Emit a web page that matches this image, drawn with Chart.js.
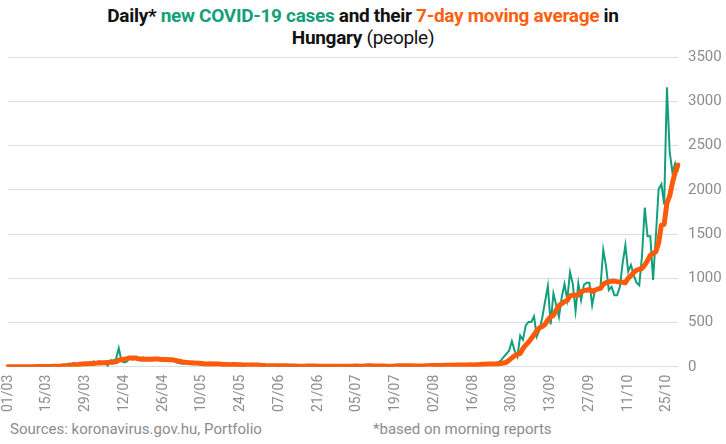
<!DOCTYPE html>
<html>
<head>
<meta charset="utf-8">
<script src="https://cdn.jsdelivr.net/npm/chart.js@4.4.1/dist/chart.umd.min.js"></script>
<style>
    body { margin: 0; background: #fff; font-family: Roboto, sans-serif; }
    #wrap { position: relative; width: 726px; height: 444px; overflow: hidden; }
    #title { position: absolute; left: 0; top: 5px; width: 726px; text-align: center;
             font-size: 19px; font-weight: 700; line-height: 22px; color: #111; letter-spacing: -0.3px; }
    #title .g { color: #12a07c; }
    #title .o { color: #ff5f0f; }
    #title .n { font-weight: 400; }
    #box { position: absolute; left: 0; top: 38px; width: 726px; height: 382px; }
    .foot { position: absolute; top: 420px; font-size: 15px; color: #8c8c8c; }
</style>
</head>
<body>
<div id="wrap">
    <div id="title">Daily* <span class="g">new COVID-19 cases</span> and their <span class="o">7-day moving average</span> in<br>Hungary <span class="n">(people)</span></div>
    <div id="box"><canvas id="covidChart"></canvas></div>
    <div class="foot" style="left:10px">Sources: koronavirus.gov.hu, Portfolio</div>
    <div class="foot" style="left:373px">*based on morning reports</div>
</div>
<script>
// napi új esetek (reggeli jelentések), havonta
const casesMar = [0,0,0,2,0,2,3,0,1,3, 4,0,3,3,6,7,11,11,8,12, 18,18,36,35,41,26,39,34,38,39, 45];
const casesApr = [60,38,62,45,55,11,73,70,85,210, 65,50,60,110,81,92,98,70,106,74, 76,97,96,98,72,62,78,70,68,80];
const casesMay = [46,38,33,37,44,35,56,45,35,20, 18,29,45,33,28,35,20,16,25,20, 35,30,20,10,5,21,26,15,20,21, 10];
const casesJun = [6,5,10,12,18,9,7,14,10,6, 6,5,8,4,12,5,12,10,6,10, 2,3,4,11,3,3,9,14,6,5];
const casesJul = [2,8,12,8,9,10,2,13,13,7, 9,6,4,10,10,5,9,6,21,15, 13,5,9,9,6,11,4,6,10,20, 23];
const casesAug = [13,14,9,18,10,20,23,27,15,18, 17,22,19,27,30,12,21,22,35,25, 40,35,45,40,50,68,110,144,182,289, 182];
const casesSep = [114,353,304,467,505,505,570,342,418,560, 740,912,479,828,700,562,783,935,760,1068, 935,631,942,752,923,950,950,695,866,866];
const casesOct = [904,1322,1140,866,904,809,809,904,1170,1372, 1075,1150,1037,950,920,1254,1797,1474,1474,980, 1474,2006,2063,1835,3158,2424,2196,2299,2204];

// 7 napos mozgóátlag, havonta
const avgMar = [0,0,0,0,0,1,1,1,1,1, 2,2,2,2,3,4,5,7,7,8, 10,12,15,18,22,24,27,30,33,34, 37];
const avgApr = [38,41,42,46,46,49,50,52,55,75, 80,85,92,98,100,100,90,88,86,85, 84,85,88,87,84,82,81,80,78,75];
const avgMay = [68,62,55,50,47,45,43,41,40,37, 34,32,33,32,32,31,28,25,25,24, 25,25,24,22,20,19,20,19,20,19, 17];
const avgJun = [15,13,12,12,12,11,10,10,11,10, 9,8,8,7,7,7,8,8,8,8, 7,6,6,6,5,5,6,7,7,7];
const avgJul = [7,7,7,8,8,7,7,9,10,10, 9,9,8,8,8,7,7,7,9,10, 10,10,10,10,10,9,9,8,8,10, 12];
const avgAug = [13,14,15,15,15,16,16,18,18,19, 19,20,20,21,22,21,22,23,28,29, 30,30,31,32,33,36,42,50,75,100, 125];
const avgSep = [138,150,205,245,277,320,360,410,440,455, 480,530,565,580,640,690,714,735,750,800, 810,808,810,850,860,866,875,850,865,878];
const avgOct = [885,930,950,960,965,968,962,958,955,950, 1000,1030,1065,1090,1102,1110,1150,1200,1260,1280, 1300,1400,1600,1610,1850,1930,2080,2200,2280];

const cases = [].concat(casesMar, casesApr, casesMay, casesJun, casesJul, casesAug, casesSep, casesOct);
const movingAvg = [].concat(avgMar, avgApr, avgMay, avgJun, avgJul, avgAug, avgSep, avgOct);

// napok: 2020.03.01-től
const days = [];
for (let i = 0; i < cases.length; i++) {
    const d = new Date(2020, 2, 1 + i);
    days.push(String(d.getDate()).padStart(2, '0') + '/' + String(d.getMonth() + 1).padStart(2, '0'));
}

const yTicks = [0, 500, 1000, 1500, 2000, 2500, 3000, 3500];
const labelEvery = 14;

const ctx = document.getElementById('covidChart').getContext('2d');
new Chart(ctx, {
    type: 'line',
    data: {
        labels: days,
        datasets: [{
            label: 'new COVID-19 cases',
            data: cases,
            borderColor: '#12a07c',
            borderWidth: 2,
            pointRadius: 0,
            tension: 0,
            fill: false,
            order: 2
        }, {
            label: '7-day moving average',
            data: movingAvg,
            borderColor: '#ff5a0a',
            borderWidth: 5,
            borderJoinStyle: 'round',
            borderCapStyle: 'round',
            pointRadius: 0,
            tension: 0,
            fill: false,
            order: 1
        }]
    },
    options: {
        responsive: true,
        maintainAspectRatio: false,
        animation: false,
        layout: { padding: { top: 3, right: 0, left: 0, bottom: 0 } },
        plugins: {
            legend: { display: false },
            tooltip: { enabled: false }
        },
        scales: {
            x: {
                grid: { display: false, drawTicks: false },
                border: { display: false },
                ticks: {
                    autoSkip: false,
                    minRotation: 90,
                    maxRotation: 90,
                    padding: 8,
                    color: '#8c8c8c',
                    font: { family: 'Roboto', size: 14 },
                    callback: function (value, index) {
                        return index % labelEvery === 0 ? days[index] : '';
                    }
                }
            },
            y: {
                position: 'right',
                min: yTicks[0],
                max: yTicks[yTicks.length - 1],
                grid: { color: '#d6e0dd', drawTicks: false },
                border: { display: false },
                afterBuildTicks: function (axis) {
                    axis.ticks = yTicks.map(v => ({ value: v }));
                },
                afterFit: function (axis) {
                    axis.width = 48;
                },
                ticks: {
                    padding: 10,
                    color: '#8c8c8c',
                    font: { family: 'Roboto', size: 15 },
                    callback: function (value) {
                        return String(value);
                    }
                }
            }
        }
    }
});
</script>
</body>
</html>
